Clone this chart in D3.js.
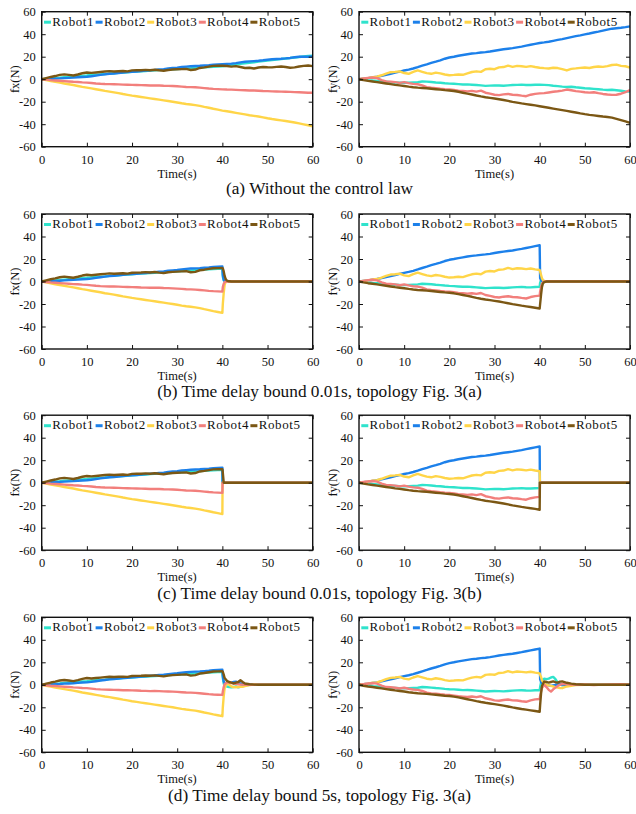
<!DOCTYPE html>
<html>
<head>
<meta charset="utf-8">
<script src="https://cdn.jsdelivr.net/npm/d3@7/dist/d3.min.js"></script>
<style>
  html, body { margin: 0; padding: 0; background: #fff; }
  svg { display: block; }
  text { font-family: "Liberation Serif", "Times New Roman", serif; fill: #111; }
</style>
</head>
<body>
<script>
// ---- data -----------------------------------------------------------------
const robotNames = ["Robot1", "Robot2", "Robot3", "Robot4", "Robot5"];
const robotColors = ["#2fe3cc", "#1c80ea", "#ffd548", "#f27f7c", "#7b5714"];

const xTicks = [0, 10, 20, 30, 40, 50, 60];
const yTicks = [-60, -40, -20, 0, 20, 40, 60];

const captions = [
  "(a) Without the control law",
  "(b) Time delay bound 0.01s, topology Fig. 3(a)",
  "(c) Time delay bound 0.01s, topology Fig. 3(b)",
  "(d) Time delay bound 5s, topology Fig. 3(a)"
];

// sample times of the uncontrolled run, 0..60 s
const timeFull = [0,1,2,3,4,5,6,7,8,9,10,11,12,13,14,15,16,17,18,19,20,21,22,23,24,25,26,27,28,29,30,
  31,32,33,34,35,36,37,38,39,40,41,42,43,44,45,46,47,48,49,50,51,52,53,54,55,56,57,58,59,60];

// fx of each robot without the control law (N)
const fxRobot1 = [0,0.3,0.6,1.0,1.3,1.7,2.0,2.3,2.7,3.0,3.3,3.7,4.0,4.3,4.6,5.0,5.3,5.6,5.9,6.2,6.5,6.8,7.0,7.3,7.6,7.8,8.1,8.3,8.6,8.8,9.1,
  9.3,9.6,9.8,10.1,10.3,10.6,10.9,11.1,11.3,11.5,12.0,12.5,13.0,13.6,14.1,14.6,15.1,15.6,16.1,16.6,17.1,17.5,17.9,18.4,18.8,19.3,19.7,20.2,20.6,21.0];
const fxRobot2 = [0,0,0.2,0.5,0.7,1.0,1.2,1.4,1.7,2.0,2.2,2.6,3.2,3.8,4.3,4.8,5.1,5.5,5.9,6.3,6.6,6.9,7.3,7.6,8.0,8.3,8.7,9.0,9.5,9.9,10.3,
  10.8,11.2,11.5,11.7,11.9,12.2,12.5,12.9,13.2,13.4,13.6,13.8,14.3,15.0,15.5,15.8,16.1,16.4,16.8,17.3,17.7,18.0,18.2,18.5,18.9,19.5,20.0,20.1,20.0,20.2];
const fxRobot3 = [0,-0.8,-1.6,-2.4,-3.1,-3.8,-4.5,-5.2,-6.0,-6.8,-7.5,-8.2,-8.9,-9.6,-10.4,-11.0,-11.7,-12.4,-13.2,-13.9,-14.6,-15.2,-15.8,-16.4,-17.0,-17.6,-18.2,-18.8,-19.4,-20.0,-20.7,
  -21.4,-22.0,-22.5,-23.0,-23.7,-24.6,-25.4,-26.3,-27.1,-27.9,-28.5,-29.2,-29.9,-30.6,-31.3,-32.0,-32.6,-33.2,-33.9,-34.7,-35.4,-36.0,-36.6,-37.2,-37.8,-38.5,-39.3,-40.1,-40.9,-41.8];
const fxRobot4 = [0,-0.4,-0.8,-1.1,-1.4,-1.7,-2.0,-2.3,-2.5,-2.8,-3.0,-3.4,-3.8,-4.1,-4.3,-4.4,-4.5,-4.6,-4.8,-4.9,-5.0,-5.1,-5.3,-5.4,-5.6,-5.5,-5.6,-5.8,-5.9,-6.1,-6.3,
  -6.6,-6.9,-7.0,-7.2,-7.5,-7.9,-8.3,-8.6,-8.8,-9.0,-9.2,-9.3,-9.5,-9.7,-9.8,-10.0,-10.1,-10.3,-10.5,-10.6,-10.8,-10.9,-11.0,-11.1,-11.3,-11.5,-11.6,-11.8,-12.0,-12.0];
const fxRobot5 = [0,1.0,2.0,2.8,3.8,4.3,3.8,3.3,4.2,5.3,6.0,5.6,6.0,6.4,6.8,7.2,6.9,7.1,7.3,7.0,7.8,7.9,8.0,8.3,8.0,8.4,7.9,7.5,8.2,8.6,8.8,
  9.0,9.2,8.2,8.6,10.0,10.5,11.2,11.8,11.9,12.0,11.7,11.2,11.6,10.8,10.0,10.2,9.5,10.4,10.9,10.6,10.5,11.0,11.3,10.8,10.2,10.5,11.3,11.8,12.2,11.6];

// fy of each robot without the control law (N)
const fyRobot1 = [0,-0.3,-0.8,-1.2,-1.5,-2.0,-2.3,-2.7,-2.9,-3.1,-3.2,-3.0,-2.8,-2.6,-2.0,-2.2,-2.5,-2.9,-3.2,-3.6,-3.9,-4.1,-4.4,-4.7,-4.6,-4.9,-5.2,-5.5,-5.9,-5.7,-5.5,
  -5.6,-5.8,-5.5,-5.2,-5.0,-4.8,-5.1,-5.2,-4.9,-4.8,-5.0,-5.3,-5.8,-6.2,-6.6,-6.9,-6.7,-7.2,-7.6,-8.0,-8.3,-8.6,-8.9,-9.3,-9.6,-9.4,-9.8,-10.3,-10.8,-11.0];
const fyRobot2 = [0,0.5,1.0,1.6,2.2,3.0,3.9,4.8,5.8,6.8,7.7,8.5,9.5,10.7,12.0,13.2,14.5,15.6,16.8,18.2,19.3,20.0,20.8,21.5,22.2,22.8,23.2,23.7,24.1,24.6,25.3,
  26.0,26.6,27.1,27.6,28.3,29.0,29.8,30.6,31.4,32.2,32.7,33.3,34.1,34.9,35.6,36.5,37.4,38.3,39.0,39.8,40.6,41.5,42.3,43.2,44.1,44.9,45.3,45.7,46.3,47.0];
const fyRobot3 = [0,0.5,1.0,1.8,2.2,3.5,5.0,6.2,6.5,7.0,5.5,4.8,6.5,7.8,6.6,5.4,4.8,5.8,5.2,4.2,3.5,3.8,4.2,3.9,5.2,6.4,7.0,6.5,8.8,9.3,8.9,
  10.5,10.8,12.1,11.0,11.8,11.5,11.0,11.6,10.8,10.2,9.8,9.5,10.2,9.9,9.0,7.8,9.2,9.6,10.1,10.4,10.0,10.8,11.3,11.0,11.6,12.6,13.0,11.8,11.5,10.2];
const fyRobot4 = [0,0.6,1.2,1.5,1.0,-0.8,-2.0,-2.2,-2.6,-3.3,-2.6,-3.5,-4.2,-4.5,-5.5,-7.0,-7.6,-7.9,-8.4,-8.8,-9.0,-9.6,-10.2,-10.5,-10.8,-10.4,-11.0,-10.2,-12.0,-12.8,-13.8,
  -14.2,-13.5,-13.1,-13.8,-14.0,-14.6,-15.1,-13.8,-13.0,-12.6,-12.4,-11.8,-11.2,-10.7,-10.1,-9.2,-9.8,-10.6,-11.0,-11.6,-11.9,-11.6,-12.4,-13.1,-13.6,-13.9,-13.8,-12.9,-11.4,-9.8];
const fyRobot5 = [0,-0.8,-1.5,-2.0,-2.6,-3.2,-3.8,-4.4,-5.0,-5.5,-6.0,-6.6,-7.1,-7.5,-7.8,-8.1,-8.5,-8.9,-9.3,-9.7,-10.0,-10.5,-11.2,-12.0,-12.8,-13.6,-14.5,-15.3,-16.0,-16.6,-17.2,
  -17.8,-18.5,-19.3,-20.1,-20.8,-21.5,-22.1,-22.7,-23.3,-24.0,-24.7,-25.4,-26.1,-26.8,-27.5,-28.2,-28.9,-29.6,-30.4,-31.1,-31.7,-32.2,-32.7,-33.2,-33.6,-34.2,-35.2,-36.3,-37.5,-38.8];

// the control law is switched on at this time (s)
const switchTime = 40;

// (b) 0.01 s delay, topology 3(a): samples after the switch
const tailTimeB = [40.1,40.3,40.5,40.7,41,41.5,42,43,44,45,46,48,50,52,54,56,58,60];
const fxTailB = [
  [4,1,0.3,0.1,0,0,0.1,0,0,-0.1,0,0,0,0,0.1,0,0,0],
  [6,1.5,0.5,0.2,0,0,0,0.1,0,0,0,0,0,0,0,0,0,0],
  [-20,-10,-3,-0.8,0,0.1,0,0,0,0,0,0,0,0,0,0,0,0],
  [-5,-2,-0.6,-0.2,0,0,0,0,0.1,0,0,0,0,0,0,0.1,0,0],
  [11.8,9,5,2.5,0.8,0.2,0,0.1,0,0,0,0,0,0,0,0,0,0]
];
const fyTailB = [
  [-1,1,1.2,0.8,0.3,0,0,0,0,0,0,0,0,0,0,0,0,0],
  [3,1,0.5,0.2,0,0,0,0,0,0,0,0,0,0,0,0,0,0],
  [9,6,3,1.5,0.5,0,0,0,0,0,0,0,0,0,0,0,0,0],
  [-9,-5,-2,-0.8,0,0,0.2,0,0.3,0,0.2,0,0.3,0,0.2,0,0.3,0],
  [-20,-12,-5,-2,-0.5,0,0,0,0,0,0,0,0,0,0,0,0,0]
];

// (c) 0.01 s delay, topology 3(b)
const tailTimeC = [40.05,40.3,41,42,45,50,55,60];
const fxTailC = [
  [0,0,0,0,0,0,0,0],
  [0,0,0,0,0,0,0,0],
  [0,0,0,0,0,0,0,0],
  [0,0,0,0,0,0,0,0],
  [11,0,0,0,0,0,0,0]
];
const fyTailC = [
  [0,0,0,0,0,0,0,0],
  [0,0,0,0,0,0,0,0],
  [0,0,0,0,0,0,0,0],
  [0,0,0,0,0,0,0,0],
  [0,0,0,0,0,0,0,0]
];

// (d) 5 s delay, topology 3(a)
const tailTimeD = [40.1,40.3,40.5,41,41.5,42,42.5,43,43.5,44,44.5,45,46,47,48,50,52,54,56,58,60];
const fxTailD = [
  [6,1,-0.5,-1.5,-2,-2.2,-2,-1.5,-2.2,-1.8,-1,-0.5,0,0,0,0,0.1,0,0,0,0],
  [8,3,1.5,1.2,1.5,2,2.5,2.8,2,1.2,0.5,0.2,0,0,0,0,0,0,0,0,0],
  [-20,-10,-3,1.5,0,-1.5,-2,-2.2,-2,-1.8,-1.8,-1.2,-0.3,0.3,0.2,0,0,0,0,0,0],
  [-6,-2,0.5,2,2.2,1.5,1.2,0.8,0.5,0.3,0.2,0.1,0,0,0,0,0,0,0,0,0],
  [11.5,9,6,3.5,2.5,2,1.2,2,2.5,4,2.5,1.2,0.5,0.2,0,0,0,0,0,0,0]
];
const fyTailD = [
  [-2,2,4,5.5,5,5.5,6.5,7,5,2,0.5,-0.5,-0.3,0,0,0,0,0,0,0,0],
  [5,2.5,1.5,0.5,0,-0.5,-1,-0.5,0,0.3,0.5,0.3,0,0,0,0,0,0,0,0,0],
  [9,7,4,1,0,-0.5,-1,-1.5,-2,-2.5,-2.8,-3,-1.5,-0.8,-0.2,0,0,0,0,0,0],
  [-10,-6,-3,0,-2,-4.5,-6,-4,-2.5,-1,0,0.8,0.6,0.3,0,0.3,-0.2,0.2,0.3,0.5,0.2],
  [-18,-8,-1,3,2.5,2,2.5,3,2.3,2,2.8,3,1.8,1,0.5,0,0,0,0,0,0]
];

// ---- assembly of the per-panel series -------------------------------------
const fxFull = [fxRobot1, fxRobot2, fxRobot3, fxRobot4, fxRobot5];
const fyFull = [fyRobot1, fyRobot2, fyRobot3, fyRobot4, fyRobot5];

function seriesFull(full) {
  return full.map(v => timeFull.map((t, i) => [t, v[i]]));
}
function seriesSwitched(full, tailTime, tails) {
  const n = timeFull.indexOf(switchTime) + 1;
  return full.map((v, r) =>
    timeFull.slice(0, n).map((t, i) => [t, v[i]])
      .concat(tailTime.map((t, i) => [t, tails[r][i]])));
}

const rows = [
  { fx: seriesFull(fxFull), fy: seriesFull(fyFull) },
  { fx: seriesSwitched(fxFull, tailTimeB, fxTailB), fy: seriesSwitched(fyFull, tailTimeB, fyTailB) },
  { fx: seriesSwitched(fxFull, tailTimeC, fxTailC), fy: seriesSwitched(fyFull, tailTimeC, fyTailC) },
  { fx: seriesSwitched(fxFull, tailTimeD, fxTailD), fy: seriesSwitched(fyFull, tailTimeD, fyTailD) }
];

// ---- layout ----------------------------------------------------------------
const W = 636, H = 814;
const rowTop = [11.7, 214, 415.2, 617.3];
const plotH = 135;
const colLeft = [41.7, 359];
const plotW = 271;
const captionY = [194, 397, 599, 801];

const svg = d3.select("body").append("svg").attr("width", W).attr("height", H);

const x = d3.scaleLinear().domain([0, 60]).range([0, plotW]);
const y = d3.scaleLinear().domain([-60, 60]).range([plotH, 0]);
const fmt = d => String(d);

function drawPanel(g, series, yLabel) {
  // curves (Robot5 ends up on top)
  const line = d3.line().x(d => x(d[0])).y(d => y(d[1]));
  g.append("g").selectAll("path").data(series).join("path")
    .attr("d", line)
    .attr("fill", "none")
    .attr("stroke", (d, i) => robotColors[i])
    .attr("stroke-width", 2.4)
    .attr("stroke-linejoin", "round")
    .attr("stroke-linecap", "butt");

  // axes with inward ticks on all four sides
  const tickStyle = sel => {
    sel.select(".domain").remove();
    sel.selectAll(".tick line").attr("stroke", "#111").attr("stroke-width", 1);
    sel.selectAll(".tick text").style("font-size", "12.5px").attr("fill", "#222")
      .style("font-family", "'Liberation Serif', serif");
  };
  g.append("g").attr("transform", `translate(0,${plotH})`)
    .call(d3.axisBottom(x).tickValues(xTicks).tickFormat(fmt).tickSizeInner(-4).tickSizeOuter(0).tickPadding(8))
    .call(tickStyle);
  g.append("g")
    .call(d3.axisLeft(y).tickValues(yTicks).tickFormat(fmt).tickSizeInner(-4).tickSizeOuter(0).tickPadding(6))
    .call(tickStyle);
  g.append("g")
    .call(d3.axisTop(x).tickValues(xTicks).tickFormat("").tickSizeInner(-4).tickSizeOuter(0))
    .call(tickStyle);
  g.append("g").attr("transform", `translate(${plotW},0)`)
    .call(d3.axisRight(y).tickValues(yTicks).tickFormat("").tickSizeInner(-4).tickSizeOuter(0))
    .call(tickStyle);

  g.append("rect").attr("width", plotW).attr("height", plotH)
    .attr("fill", "none").attr("stroke", "#111").attr("stroke-width", 1.4);

  // axis titles
  g.append("text").attr("x", plotW / 2).attr("y", plotH + 31)
    .attr("text-anchor", "middle").style("font-size", "12.5px").text("Time(s)");
  g.append("text")
    .attr("transform", `translate(-22.5,${plotH / 2}) rotate(-90)`)
    .attr("text-anchor", "middle").style("font-size", "12.5px").text(yLabel);

  // legend across the top of the plot
  const leg = g.append("g").selectAll("g").data(robotNames).join("g")
    .attr("transform", (d, i) => `translate(${2.3 + i * 51.6},0)`);
  leg.append("line").attr("x1", 0).attr("x2", 7).attr("y1", 10.5).attr("y2", 10.5)
    .attr("stroke", (d, i) => robotColors[i]).attr("stroke-width", 3);
  leg.append("text").attr("x", 8.3).attr("y", 14)
    .style("font-size", "13px").style("letter-spacing", "0.6px").text(d => d);
}

rows.forEach((r, ri) => {
  drawPanel(svg.append("g").attr("transform", `translate(${colLeft[0]},${rowTop[ri]})`), r.fx, "fx(N)");
  drawPanel(svg.append("g").attr("transform", `translate(${colLeft[1]},${rowTop[ri]})`), r.fy, "fy(N)");
  svg.append("text").attr("x", 319.5).attr("y", captionY[ri])
    .attr("text-anchor", "middle").style("font-size", "17.3px").attr("fill", "#111")
    .text(captions[ri]);
});
</script>
</body>
</html>
